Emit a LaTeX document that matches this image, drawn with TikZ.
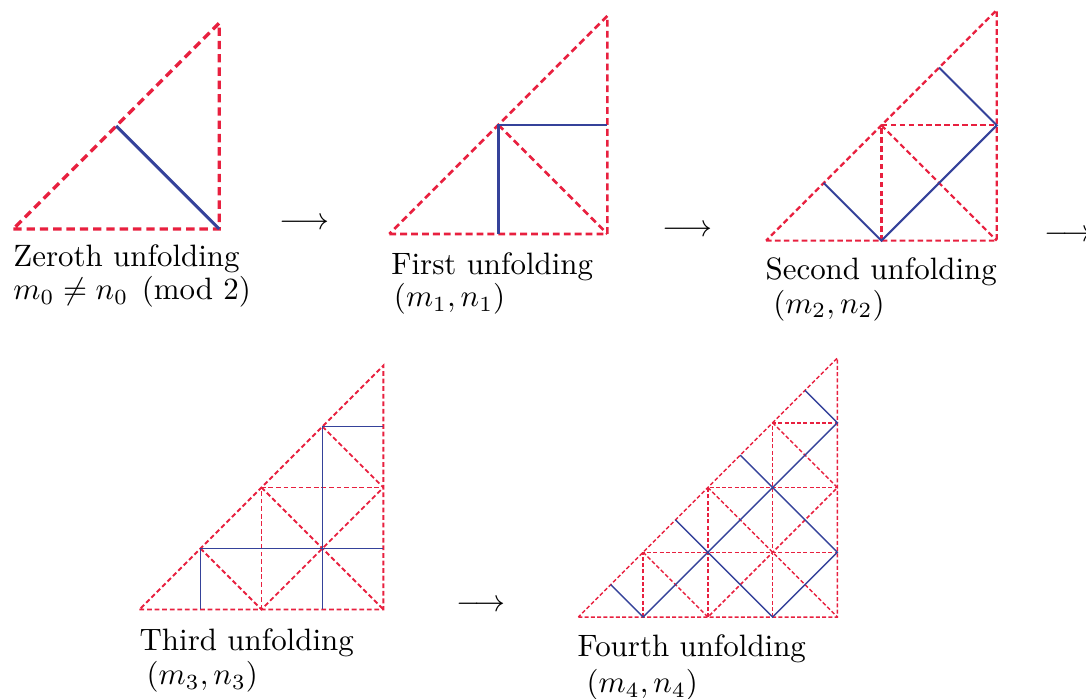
\documentclass[tikz,border=0pt]{standalone}
\usepackage{amsmath,amssymb}
\usepackage{tikz}
\definecolor{FoldRed}{HTML}{E8203F}
\definecolor{OrbitBlue}{HTML}{35429A}

\begin{document}
\begin{tikzpicture}[
fold/.style={draw=FoldRed,line width=#1*1.05pt,dash pattern=on #1*2.7pt off #1*1.6pt},
orbit/.style={draw=OrbitBlue,line width=#1*1pt},
lbl/.style={inner sep=0pt,anchor=base west,font=\normalsize},
nextarr/.style={inner sep=0pt,anchor=base west}
]
\useasboundingbox (0,0) rectangle (12.341,7.932);

% zeroth unfolding
\begin{scope}[shift={(0.151,5.330)},x=1.170cm,y=1.170cm]
\draw[fold=1] (0,0) -- (2,0) -- (2,2) -- cycle;
\draw[orbit=1] (1,1) -- (2,0);
\end{scope}

% first unfolding
\begin{scope}[shift={(4.424,5.273)},x=1.239cm,y=1.239cm]
\draw[fold=.82] (0,0) -- (2,0) -- (2,2) -- cycle;
\draw[fold=.82] (1,1) -- (2,0);
\draw[orbit=.82] (1,0) -- (1,1) -- (2,1);
\end{scope}

% second unfolding
\begin{scope}[shift={(8.705,5.197)},x=1.311cm,y=1.311cm]
\draw[fold=.67] (0,0) -- (2,0) -- (2,2) -- cycle;
\draw[fold=.67] (1,1) -- (2,0);
\draw[fold=.67] (1,0) -- (1,1) -- (2,1);
\draw[orbit=.67] (0.5,0.5) -- (1,0) -- (2,1) -- (1.5,1.5);
\end{scope}

% third unfolding
\begin{scope}[shift={(1.585,1.006)},x=0.693cm,y=0.693cm]
\draw[fold=.57] (0,0) -- (4,0) -- (4,4) -- cycle;
\draw[fold=.57] (2,0) -- (2,2) -- (4,2);
\draw[fold=.57] (2,2) -- (4,0);
\draw[fold=.57] (1,1) -- (2,0) -- (4,2);
\draw[fold=.57] (3,3) -- (4,2);
\draw[orbit=.57] (1,0) -- (1,1) -- (4,1);
\draw[orbit=.57] (3,0) -- (3,3) -- (4,3);
\end{scope}

% fourth unfolding
\begin{scope}[shift={(6.572,0.920)},x=0.736cm,y=0.736cm]
\draw[fold=.47] (0,0) -- (4,0) -- (4,4) -- cycle;
\draw[fold=.47] (2,0) -- (2,2) -- (4,2);
\draw[fold=.47] (2,2) -- (4,0);
\draw[fold=.47] (1,1) -- (2,0) -- (4,2);
\draw[fold=.47] (3,3) -- (4,2);
\draw[fold=.47] (1,0) -- (1,1) -- (4,1);
\draw[fold=.47] (3,0) -- (3,3) -- (4,3);
\draw[orbit=.47] (0.5,0.5) -- (1,0) -- (4,3) -- (3.5,3.5);
\draw[orbit=.47] (1.5,1.5) -- (3,0) -- (4,1) -- (2.5,2.5);
\end{scope}

% labels
\node[lbl] (zeroth) at (0.146,4.901) {Zeroth unfolding};
\node[lbl] (zerothpair) at (0.146,4.530) {$m_0\neq n_0 \pmod 2$};
\node[lbl] (first) at (4.440,4.807) {First unfolding};
\node[lbl] (firstpair) at (4.470,4.447) {$(m_1,n_1)$};
\node[lbl] (second) at (8.693,4.758) {Second unfolding};
\node[lbl] (secondpair) at (8.780,4.375) {$(m_2,n_2)$};
\node[lbl] (third) at (1.580,0.545) {Third unfolding};
\node[lbl] (thirdpair) at (1.660,0.148) {$(m_3,n_3)$};
\node[lbl] (fourth) at (6.557,0.466) {Fourth unfolding};
\node[lbl] (fourthpair) at (6.660,0.057) {$(m_4,n_4)$};

% arrows between the steps
\node[nextarr] (to1) at (3.171,5.325) {$\longrightarrow$};
\node[nextarr] (to2) at (7.519,5.242) {$\longrightarrow$};
\node[nextarr] (to3) at (11.857,5.185) {$\longrightarrow$};
\node[nextarr] (to4) at (5.175,0.981) {$\longrightarrow$};
\end{tikzpicture}
\end{document}
